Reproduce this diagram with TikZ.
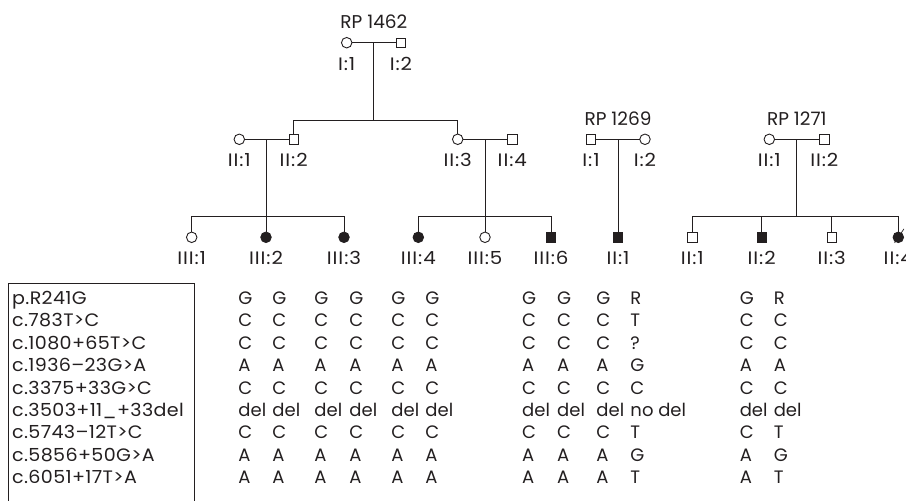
\documentclass[tikz,border=0pt]{standalone}
\usepackage{fontspec}
\setmainfont{Poppins}
\newfontfamily\labfont[FakeStretch=1.06, LetterSpace=2]{Poppins}
\newfontfamily\pedfont[FakeStretch=1.1, LetterSpace=5]{Poppins}
\usetikzlibrary{calc}
\definecolor{ink}{HTML}{231F20}
\begin{document}
\begin{tikzpicture}[x=1pt,y=-1pt,
  line width=0.95pt, draw=ink,
  sym/.style={draw=ink, line width=0.9pt, inner sep=0pt, outer sep=0pt, fill=white},
  male/.style={sym, rectangle, minimum size=9.5pt},
  female/.style={sym, circle, minimum size=10.5pt},
  aff/.style={fill=ink},
  txt/.style={text=ink, font=\pedfont\fontsize{18}{18}\selectfont, inner sep=0pt, anchor=base},
  famname/.style={txt, font=\fontsize{18.5}{18.5}\selectfont},
  varname/.style={txt, font=\labfont\fontsize{18}{18}\selectfont, anchor=base west},
  cell/.style={txt, font=\fontsize{18}{18}\selectfont, anchor=base west}]
\useasboundingbox (0,0) rectangle (906,501);
\clip (0,0) rectangle (906,501);

% ---------- family RP 1462 ----------
\node[female] (a1) at (346.7,42.7) {};
\node[male]   (a2) at (401,42.7) {};
\coordinate (a12) at ($(a1)!0.5!(a2)$);
\draw (a1) -- (a2);
\node[famname] (rpa) at ($(a12)+(0,-14.3)$) {RP 1462};
\node[txt] (a1l) at ($(a1)+(0,27.3)$) {I:1};
\node[txt] (a2l) at ($(a2)+(0,27.3)$) {I:2};
\path (a12) ++(0,77.3) coordinate (sa);
\draw (a12) -- (sa);

\node[female] (b1) at (239.3,139.3) {};
\node[male]   (b2) at (293.7,139.3) {};
\node[female] (b3) at (457.7,139.3) {};
\node[male]   (b4) at (512.3,139.3) {};
\draw (b2.north) |- (sa);
\draw (b3.north) |- (sa);
\draw (b1) -- (b2);
\draw (b3) -- (b4);
\coordinate (b12) at ($(b1)!0.5!(b2)$);
\coordinate (b34) at ($(b3)!0.5!(b4)$);
\foreach \n/\t in {b1/II:1, b2/II:2, b3/II:3, b4/II:4}
  \node[txt] (\n l) at ($(\n)+(0,27.6)$) {\t};

\path (b12) ++(0,77.4) coordinate (sb);
\path (b34) ++(0,77.4) coordinate (sc);
\draw (b12) -- (sb);
\draw (b34) -- (sc);

\node[female]      (c1) at (191.7,237.3) {};
\node[female, aff] (c2) at (266,237.3) {};
\node[female, aff] (c3) at (344,237.3) {};
\node[female, aff] (c4) at (418.3,237.3) {};
\node[female]      (c5) at (485,237.3) {};
\node[male, aff]   (c6) at (551,237.3) {};
\foreach \n in {c1,c2,c3} \draw (\n.north) |- (sb);
\foreach \n in {c4,c5,c6} \draw (\n.north) |- (sc);
\foreach \n/\t in {c1/III:1, c2/III:2, c3/III:3, c4/III:4, c5/III:5, c6/III:6}
  \node[txt] (\n l) at ($(\n)+(0,27)$) {\t};

% ---------- family RP 1269 ----------
\node[male]   (d1) at (591,139.3) {};
\node[female] (d2) at (645,139.3) {};
\draw (d1) -- (d2);
\coordinate (d12) at ($(d1)!0.5!(d2)$);
\node[famname] (rpb) at ($(d12)+(0,-14.3)$) {RP 1269};
\node[txt] (d1l) at ($(d1)+(0,27.6)$) {I:1};
\node[txt] (d2l) at ($(d2)+(0,27.6)$) {I:2};
\node[male, aff] (d3) at (d12 |- c1) {};
\draw (d12) -- (d3);
\node[txt] (d3l) at ($(d3)+(0,27.6)$) {II:1};

% ---------- family RP 1271 ----------
\node[female] (e1) at (769.3,139.3) {};
\node[male]   (e2) at (824.3,139.3) {};
\draw (e1) -- (e2);
\coordinate (e12) at ($(e1)!0.5!(e2)$);
\node[famname] (rpc) at ($(e12)+(0,-14.3)$) {RP 1271};
\node[txt] (e1l) at ($(e1)+(0,27.6)$) {II:1};
\node[txt] (e2l) at ($(e2)+(0,27.6)$) {II:2};
\path (e12) ++(0,76.7) coordinate (se);
\draw (e12) -- (se);

\node[male]        (f1) at (692.3,237.3) {};
\node[male, aff]   (f2) at (761.7,237.3) {};
\node[male]        (f3) at (831.7,237.3) {};
\node[female, aff] (f4) at (898.3,237.3) {};
\foreach \n in {f1,f2,f3,f4} \draw (\n.north) |- (se);
\draw[line width=0.7pt] ([shift={(-3.7,5.6)}]f4.center) -- ([shift={(5.6,-8.4)}]f4.center);
\foreach \n/\t in {f1/II:1, f2/II:2, f3/II:3, f4/II:4}
  \node[txt] (\n l) at ($(\n)+(0,27.6)$) {\t};

% ---------- variant table ----------
\draw[line width=0.8pt] (8.3,520) |- (194.3,283.3) -- (194.3,520);
\foreach \t [count=\i from 0] in {p.R241G, c.783T>C, c.1080+65T>C, c.1936–23G>A,
    c.3375+33G>C, c.3503+11\_+33del, c.5743–12T>C, c.5856+50G>A, c.6051+17T>A}
  \node[varname] (v\i) at (11.7,304.5+22.4*\i) {\t};

% genotypes shared by most columns
\foreach \x [count=\j] in {238,272,314,349,391,425,521.7,556.7,596,739.3}
  \foreach \t [count=\i from 0] in {G,C,C,A,C,del,C,A,A}
    \node[cell] (g\j-\i) at (\x,304.5+22.4*\i) {\t};
\foreach \t [count=\i from 0] in {R,T,?,G,C,no del,T,G,T}
  \node[cell] (h\i) at (630,304.5+22.4*\i) {\t};
\foreach \t [count=\i from 0] in {R,C,C,A,C,del,T,G,T}
  \node[cell] (k\i) at (773.3,304.5+22.4*\i) {\t};
\end{tikzpicture}
\end{document}
